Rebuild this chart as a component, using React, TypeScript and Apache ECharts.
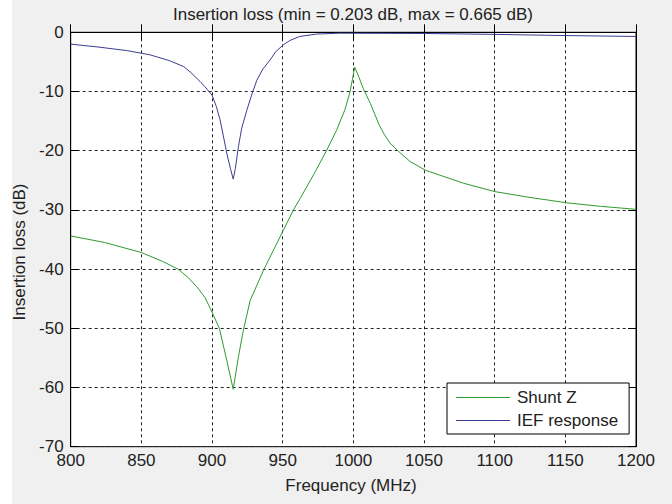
import React, { useEffect, useRef } from "react";
import * as echarts from "echarts";

// IEF response (blue)
const freqIEF = [800, 820, 840, 856, 870, 880, 885, 891.5, 895, 900, 903, 905.7, 908, 910.4, 913, 915, 916.5, 918.7, 921, 924.6, 928, 931.7, 936, 941, 945, 950.5, 955, 962, 974, 990, 1050, 1100, 1150, 1200];
const lossIEF = [-2.0, -2.5, -3.1, -3.8, -4.8, -5.8, -6.8, -8.3, -9.2, -10.6, -12.5, -14.8, -17.5, -20.4, -23, -24.8, -23, -19.3, -16.2, -13.2, -10.6, -8.1, -6.2, -4.7, -3.3, -2.1, -1.4, -0.7, -0.3, -0.15, -0.2, -0.35, -0.55, -0.7];

// Shunt Z (green)
const freqShunt = [800, 824, 850, 865, 876, 883, 890, 895, 899.3, 905.2, 910.4, 915, 918.7, 922.2, 927, 936.4, 947, 957.6, 962.3, 972, 981, 988, 994, 997.7, 1001, 1004, 1007, 1012, 1018, 1022, 1026, 1031, 1040, 1051, 1078, 1100, 1125, 1151, 1175, 1200];
const lossShunt = [-34.4, -35.5, -37.2, -38.7, -40, -41.4, -43.2, -44.8, -46.9, -50, -55.4, -60.3, -54.8, -50.3, -45.3, -40.2, -35.1, -30, -28.1, -24, -20, -16.6, -13.1, -10, -5.9, -7.6, -9.5, -12, -15.5, -17.3, -18.75, -19.9, -21.8, -23.3, -25.5, -26.9, -27.9, -28.8, -29.4, -29.9];

const seriesNames = ["Shunt Z", "IEF response"];
const titleText = "Insertion loss (min = 0.203 dB, max = 0.665 dB)";
const xLabel = "Frequency (MHz)";
const yLabel = "Insertion loss (dB)";

const FONT = "'Liberation Sans', Arial, Helvetica, sans-serif";
const GREEN = "#2f9a2f";
const BLUE = "#3c3c92";

export default function App() {
  const ref = useRef<HTMLDivElement>(null);
  useEffect(() => {
    if (!ref.current) return;
    const chart = echarts.init(ref.current, undefined, { renderer: "svg" });
    const zip = (xs: number[], ys: number[]) => xs.map((x, i) => [x, ys[i]]);
    const tickStyle = { show: true, inside: true, length: 8, lineStyle: { color: "#000", width: 1 } };
    const splitStyle = { show: true, lineStyle: { color: "#222", width: 1, type: [3, 3] as any } };
    chart.setOption({
      animation: false,
      backgroundColor: "#f0f0f0",
      textStyle: { fontFamily: FONT },
      grid: {
        left: 70.7,
        right: 36,
        top: 32.3,
        bottom: 57.3,
        show: true,
        backgroundColor: "#fff",
        borderColor: "#000",
        borderWidth: 1,
        containLabel: false,
      },
      xAxis: [
        {
          type: "value",
          min: 800,
          max: 1200,
          interval: 50,
          axisLine: { show: true, lineStyle: { color: "#000" } },
          axisTick: tickStyle,
          axisLabel: { color: "#222", fontSize: 17, fontFamily: FONT, margin: 5, formatter: (v: number) => String(v) },
          splitLine: splitStyle,
        },
        {
          type: "value",
          position: "top",
          min: 800,
          max: 1200,
          interval: 50,
          axisLine: { show: true, lineStyle: { color: "#000" } },
          axisTick: tickStyle,
          axisLabel: { show: false },
          splitLine: { show: false },
        },
      ],
      yAxis: [
        {
          type: "value",
          min: -70,
          max: 0,
          interval: 10,
          axisLine: { show: true, lineStyle: { color: "#000" } },
          axisTick: tickStyle,
          axisLabel: { color: "#222", fontSize: 17, fontFamily: FONT, margin: 7, formatter: (v: number) => String(v) },
          splitLine: splitStyle,
        },
        {
          type: "value",
          position: "right",
          min: -70,
          max: 0,
          interval: 10,
          axisLine: { show: true, lineStyle: { color: "#000" } },
          axisTick: tickStyle,
          axisLabel: { show: false },
          splitLine: { show: false },
        },
      ],
      legend: {
        orient: "vertical",
        left: 447,
        top: 383,
        data: seriesNames,
        icon: "rect",
        backgroundColor: "#fff",
        borderColor: "#000",
        borderWidth: 1,
        borderRadius: 0,
        padding: [6, 11, 5, 9],
        itemWidth: 54,
        itemHeight: 1.2,
        itemGap: 6,
        textStyle: { fontSize: 17, color: "#222", fontFamily: FONT, padding: [0, 0, 0, 2], lineHeight: 17 },
      },
      graphic: [
        { type: "rect", left: 0, top: 0, shape: { width: 12, height: 504 }, style: { fill: "#fff" }, silent: true },
        {
          type: "text",
          x: 353,
          y: 14,
          style: { text: titleText, fontSize: 17, fontFamily: FONT, fill: "#222", align: "center", verticalAlign: "middle" },
        },
        {
          type: "text",
          x: 351,
          y: 485,
          style: { text: xLabel, fontSize: 17, fontFamily: FONT, fill: "#222", align: "center", verticalAlign: "middle" },
        },
        {
          type: "text",
          x: 19,
          y: 252,
          rotation: Math.PI / 2,
          style: { text: yLabel, fontSize: 17, fontFamily: FONT, fill: "#222", align: "center", verticalAlign: "middle" },
        },
      ],
      series: [
        {
          name: seriesNames[0],
          type: "line",
          data: zip(freqShunt, lossShunt),
          symbol: "none",
          smooth: false,
          lineStyle: { color: GREEN, width: 1 },
          itemStyle: { color: GREEN },
        },
        {
          name: seriesNames[1],
          type: "line",
          data: zip(freqIEF, lossIEF),
          symbol: "none",
          smooth: false,
          lineStyle: { color: BLUE, width: 1 },
          itemStyle: { color: BLUE },
        },
      ],
    });
    return () => chart.dispose();
  }, []);
  return <div ref={ref} style={{ width: 672, height: 504, position: "absolute", left: 0, top: 0 }} />;
}
